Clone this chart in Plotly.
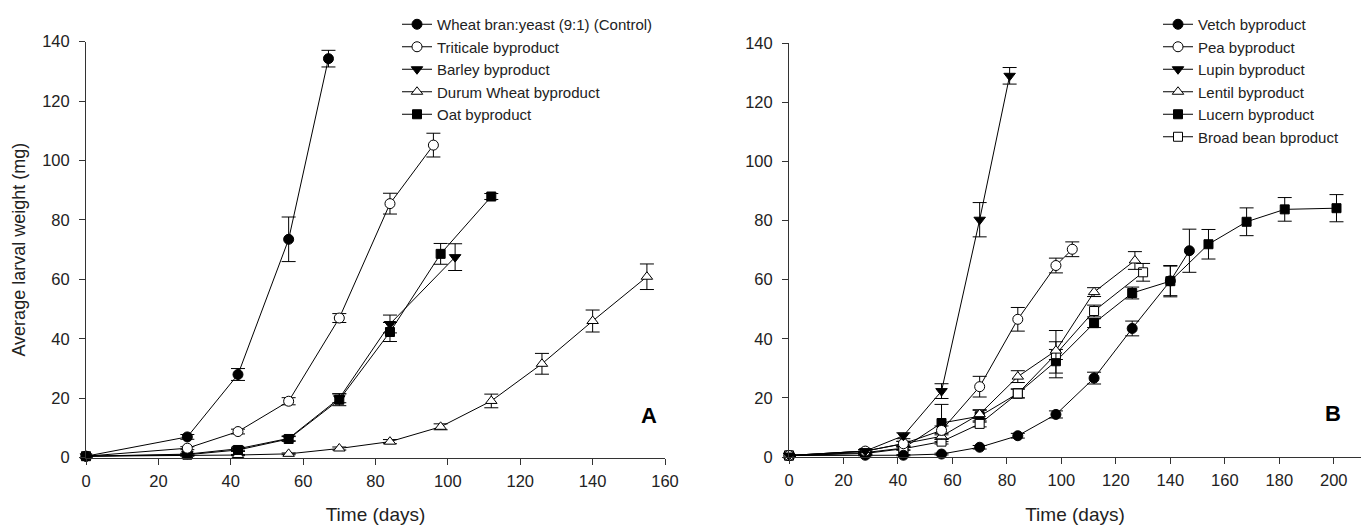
import plotly.graph_objects as go

# ---------------- Panel A data ----------------
a_names = ["Wheat bran:yeast (9:1) (Control)", "Triticale byproduct", "Barley byproduct",
           "Durum Wheat byproduct", "Oat byproduct"]
ctrl_days = [0, 28, 42, 56, 67]
ctrl_vals = [0.5, 7, 28, 73.5, 134.3]
ctrl_err = [0.3, 0.8, 2, 7.5, 2.8]
trit_days = [0, 28, 42, 56, 70, 84, 96]
trit_vals = [0.5, 3.2, 8.8, 19, 47, 85.5, 105.2]
trit_err = [0.2, 0.5, 0.8, 1.2, 1.5, 3.5, 4]
barley_days = [0, 28, 42, 56, 70, 84, 102]
barley_vals = [0.5, 1.2, 3, 6.5, 20, 45, 67.5]
barley_err = [0.2, 0.3, 0.5, 0.8, 1.5, 3, 4.5]
durum_days = [0, 28, 42, 56, 70, 84, 98, 112, 126, 140, 155]
durum_vals = [0.5, 0.6, 0.9, 1.3, 3.1, 5.4, 10.4, 19.1, 31.6, 46, 60.9]
durum_err = [0.1, 0.1, 0.2, 0.3, 0.5, 0.7, 1, 2.3, 3.5, 3.7, 4.3]
oat_days = [0, 28, 42, 56, 70, 84, 98, 112]
oat_vals = [0.5, 1, 2.6, 6.3, 19.5, 42.3, 68.6, 87.9]
oat_err = [0.2, 0.3, 0.5, 0.8, 2, 3.2, 3.5, 1]

# ---------------- Panel B data ----------------
b_names = ["Vetch byproduct", "Pea byproduct", "Lupin byproduct", "Lentil byproduct",
           "Lucern byproduct", "Broad bean bproduct"]
vetch_days = [0, 28, 42, 56, 70, 84, 98, 112, 126, 140, 147]
vetch_vals = [0.5, 0.6, 0.6, 1, 3.3, 7.2, 14.4, 26.7, 43.5, 59.6, 69.8]
vetch_err = [0.1, 0.2, 0.2, 0.3, 0.6, 0.8, 1.2, 2, 2.5, 5, 7.3]
pea_days = [0, 28, 42, 56, 70, 84, 98, 104]
pea_vals = [0.5, 2, 4.5, 9, 23.8, 46.6, 64.8, 70.3]
pea_err = [0.2, 0.5, 0.8, 1.5, 3.5, 4, 2.5, 2.5]
lupin_days = [0, 28, 42, 56, 70, 81]
lupin_vals = [0.5, 2, 7.2, 22.3, 80.3, 129]
lupin_err = [0.2, 0.5, 1, 2.5, 5.8, 2.8]
lentil_days = [0, 28, 42, 56, 70, 84, 98, 112, 127]
lentil_vals = [0.5, 2, 4.5, 7, 14.5, 27.2, 36, 55.8, 66.5]
lentil_err = [0.2, 0.4, 0.8, 1, 1.5, 2, 3, 1.5, 3]
lucern_days = [0, 28, 42, 56, 70, 84, 98, 112, 126, 140, 154, 168, 182, 201]
lucern_vals = [0.5, 1.5, 3, 11.5, 13.8, 21.5, 32.4, 45.3, 55.5, 59.5, 72, 79.6, 83.8, 84.2]
lucern_err = [0.2, 0.4, 0.6, 6.3, 2, 1.5, 4, 1.5, 2, 5.3, 5, 4.7, 4, 4.6]
broad_days = [0, 28, 42, 56, 70, 84, 98, 112, 130]
broad_vals = [0.5, 1.2, 2.8, 5.2, 11.2, 21.5, 34.8, 49.4, 62.5]
broad_err = [0.2, 0.3, 0.5, 0.8, 1, 1.5, 8, 2, 3]

x_ticks_a = [0, 20, 40, 60, 80, 100, 120, 140, 160]
x_ticks_b = [0, 20, 40, 60, 80, 100, 120, 140, 160, 180, 200]
y_ticks = [0, 20, 40, 60, 80, 100, 120, 140]

# page has an 8px body margin; size the figure so it fits the window exactly
OFF = 8
W, H = 1369 - OFF, 531 - OFF
FONT = "Liberation Sans, Arial, sans-serif"

fig = go.Figure()

def add(x, y, e, name, symbol, filled, xa, ya, legend):
    fig.add_trace(go.Scatter(
        x=x, y=y, name=name, mode="lines+markers",
        xaxis=xa, yaxis=ya, legend=legend,
        line=dict(color="black", width=1),
        marker=dict(symbol=symbol, size=10 if "square" not in symbol else 9,
                    color="black" if filled else "white",
                    line=dict(color="black", width=1)),
        error_y=dict(type="data", array=e, visible=True, color="black",
                     thickness=1, width=7),
        cliponaxis=False,
    ))

add(durum_days, durum_vals, durum_err, a_names[3], "triangle-up", False, "x", "y", "legend")
add(oat_days, oat_vals, oat_err, a_names[4], "square", True, "x", "y", "legend")
add(barley_days, barley_vals, barley_err, a_names[2], "triangle-down", True, "x", "y", "legend")
add(trit_days, trit_vals, trit_err, a_names[1], "circle", False, "x", "y", "legend")
add(ctrl_days, ctrl_vals, ctrl_err, a_names[0], "circle", True, "x", "y", "legend")

add(lucern_days, lucern_vals, lucern_err, b_names[4], "square", True, "x2", "y2", "legend2")
add(broad_days, broad_vals, broad_err, b_names[5], "square", False, "x2", "y2", "legend2")
add(lentil_days, lentil_vals, lentil_err, b_names[3], "triangle-up", False, "x2", "y2", "legend2")
add(vetch_days, vetch_vals, vetch_err, b_names[0], "circle", True, "x2", "y2", "legend2")
add(pea_days, pea_vals, pea_err, b_names[1], "circle", False, "x2", "y2", "legend2")
add(lupin_days, lupin_vals, lupin_err, b_names[2], "triangle-down", True, "x2", "y2", "legend2")

order_a = {a_names[i]: i for i in range(len(a_names))}
order_b = {b_names[i]: i for i in range(len(b_names))}
for tr in fig.data:
    if tr.name in order_a:
        tr.legendrank = order_a[tr.name] + 1
    else:
        tr.legendrank = order_b[tr.name] + 1

def px_x(p):
    return (p - OFF) / W

def px_y(p):
    return 1 - (p - OFF) / H

axis_common = dict(showline=True, linecolor="#333", linewidth=1, ticks="outside",
                   ticklen=6, tickcolor="#333", showgrid=False, zeroline=False,
                   tickfont=dict(family=FONT, size=16.5, color="#222"),
                   automargin=False)

LEG_FONT = dict(family=FONT, size=15, color="#222")

fig.update_layout(
    width=W, height=H, margin=dict(l=0, r=0, t=0, b=0),
    paper_bgcolor="white", plot_bgcolor="white",
    font=dict(family=FONT, size=15, color="#222"),
    xaxis=dict(domain=[px_x(86), px_x(665)], range=[0, 160], tickvals=x_ticks_a,
               title=dict(text="Time (days)", font=dict(size=19), standoff=19),
               ticklabelstandoff=2, anchor="y", **axis_common),
    yaxis=dict(domain=[px_y(457.7), px_y(41.7)], range=[0, 140], tickvals=y_ticks,
               title=dict(text="Average larval weight (mg)", font=dict(size=18), standoff=11),
               ticklabelstandoff=6, anchor="x", **axis_common),
    xaxis2=dict(domain=[px_x(789), px_x(1361)], range=[0, 210], tickvals=x_ticks_b,
                title=dict(text="Time (days)", font=dict(size=19), standoff=19),
                ticklabelstandoff=2, anchor="y2", **axis_common),
    yaxis2=dict(domain=[px_y(457), px_y(43.3)], range=[0, 140], tickvals=y_ticks,
                ticklabelstandoff=6, anchor="x2", **axis_common),
    legend=dict(x=px_x(397), y=1, xanchor="left", yanchor="top",
                bgcolor="rgba(0,0,0,0)", font=LEG_FONT, tracegroupgap=0, itemwidth=30),
    legend2=dict(x=px_x(1158), y=1, xanchor="left", yanchor="top",
                 bgcolor="rgba(0,0,0,0)", font=LEG_FONT, tracegroupgap=0, itemwidth=30),
    annotations=[
        dict(text="<b>A</b>", x=px_x(649), y=px_y(430), xref="paper", yref="paper",
             showarrow=False, font=dict(family=FONT, size=22, color="black")),
        dict(text="<b>B</b>", x=px_x(1343), y=px_y(428), xref="paper", yref="paper",
             showarrow=False, font=dict(family=FONT, size=22, color="black")),
    ],
    showlegend=True,
)

fig.write_html("out.html")
